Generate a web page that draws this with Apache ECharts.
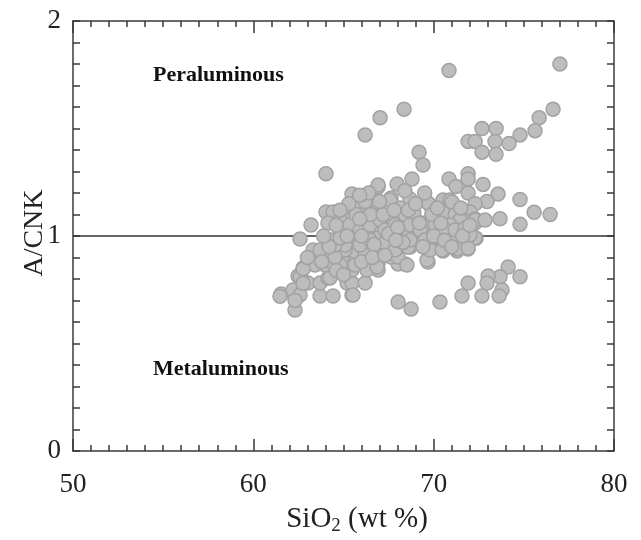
<!DOCTYPE html>
<html>
<head>
<meta charset="utf-8">
<script src="https://cdn.jsdelivr.net/npm/echarts@6/dist/echarts.min.js"></script>
<style>
html,body{margin:0;padding:0;background:#fff;}
#chart{width:641px;height:540px;}
</style>
</head>
<body>
<div id="chart"></div>
<script>
// SiO2 (wt %) and A/CNK values
const sio2 = [
70.85,77.0,68.36,67.03,66.2,69.19,69.41,64.03,76.62,75.85,75.62,74.79,74.18,72.68,73.46,71.91,72.3,73.4,72.68,73.46,
70.85,71.24,71.91,71.91,72.74,71.91,73.57,74.79,75.57,76.46,73.68,74.79,72.96,72.3,70.52,70.9,70.52,71.3,72.02,71.57,
72.3,72.3,70.9,70.85,71.63,72.35,70.52,71.3,71.9,
74.13,74.79,73.68,73.02,72.96,71.91,73.79,71.57,72.68,73.63,70.35,68.03,68.75,69.69,68.41,68.03,66.92,66.92,67.64,
62.31,61.54,62.2,62.59,62.48,62.76,63.03,63.7,64.42,65.47,63.7,64.14,63.42,63.98,64.42,64.7,65.2,65.47,66.2,65.47,
66.3,66.86,65.2,64.92,63.42,63.98,65.64,66.2,66.75,
62.59,63.2,64.03,64.42,64.14,65.47,66.58,66.92,65.47,65.09,66.2,64.81,65.47,66.2,63.31,63.7,65.09,65.8,66.75,66.58,65.92,
67.97,68.8,67.64,68.69,69.8,71.02,68.03,66.92,66.3,68.97,69.52,68.14,66.92,67.69,68.41,69.08,70.19,69.8,68.69,69.63,
68.03,68.52,65.64,64.81,65.64,65.92,65.53,62.59,62.76,64.25,64.53,
69.69,66.92,66.92,67.58,68.14,66.92,67.58,68.14,68.86,69.63,71.19,71.46,72.3,72.85,70.91,70.19,70.91,71.74,72.3,
68.97,68.3,67.58,66.92,67.19,68.03,68.58,69.8,70.47,71.3,71.91,
64.81,65.36,65.92,66.47,67.03,67.3,67.86,68.41,68.69,69.25,69.52,70.08,70.63,71.19,71.74,72.02,65.92,66.47,67.3,67.86,
68.69,65.09,64.53,64.25,64.81,61.48,62.76,62.31,67.97,70.0,
64.6,65.2,65.7,66.0,66.5,66.7,67.2,67.5,68.0,68.3,68.9,69.2,69.9,70.2,70.4,70.0,69.4,67.0,66.2,65.3,
64.8,65.9,67.8,68.6,69.0,64.2,63.8,64.6,65.0,66.0,66.6,67.3,67.9,70.6,71.0,71.6,71.5,72.0,63.0,63.9,
66.4,65.9,68.4,69.5
];
const acnk = [
1.77,1.80,1.59,1.55,1.47,1.39,1.33,1.29,1.59,1.55,1.49,1.47,1.43,1.50,1.50,1.44,1.44,1.44,1.39,1.38,
1.265,1.23,1.29,1.265,1.24,1.20,1.195,1.17,1.11,1.10,1.08,1.055,1.16,1.15,1.167,1.167,1.107,1.107,1.112,1.079,
1.079,1.06,1.051,0.99,0.99,0.99,0.93,0.93,0.94,
0.856,0.81,0.81,0.814,0.781,0.781,0.749,0.721,0.721,0.721,0.693,0.693,0.66,0.879,0.87,0.87,0.874,0.842,0.902,
0.656,0.73,0.749,0.726,0.814,0.851,0.781,0.721,0.721,0.726,0.781,0.805,0.865,0.865,0.874,0.912,0.781,0.781,0.781,0.842,
0.842,0.856,0.874,0.902,0.926,0.926,0.926,0.921,0.912,
0.986,1.051,1.112,1.112,1.06,1.195,1.20,1.228,1.112,1.074,1.074,1.014,0.99,0.972,0.935,0.935,0.935,1.042,1.028,1.121,1.153,
1.242,1.265,1.177,1.172,1.144,1.158,1.112,1.135,1.107,1.079,1.06,1.079,0.99,0.99,1.019,0.99,0.99,0.958,0.949,0.888,
0.902,0.865,0.865,0.865,0.991,0.972,0.726,0.809,0.847,0.805,0.902,
1.153,1.237,1.153,1.167,1.13,1.088,1.074,1.074,1.074,1.051,1.098,1.074,1.074,1.074,1.051,0.995,0.991,0.991,0.991,
0.995,1.019,0.991,0.991,0.944,0.949,0.949,0.935,0.935,0.94,0.944,
1.074,1.051,1.028,1.051,1.074,1.028,1.051,1.098,1.051,1.028,0.981,1.051,1.028,1.028,1.037,1.005,0.958,0.981,0.967,0.935,
0.981,0.958,0.958,0.981,0.991,0.72,0.78,0.70,1.03,1.10,
1.05,1.00,1.10,1.00,1.10,0.96,1.10,1.01,1.04,0.97,1.11,1.06,1.10,1.13,1.06,1.00,0.95,1.16,1.16,1.15,
1.12,1.08,1.12,1.12,1.15,0.95,0.88,0.84,0.82,0.88,0.90,0.91,0.98,0.98,0.95,1.00,1.13,1.05,0.90,1.00,
1.20,1.19,1.21,1.20
];
const xTicks = [50, 80, 10];   // min, max, interval
const yTicks = [0, 2, 1];
const boundary = [1];           // A/CNK = 1 line
const fieldLabels = ['Peraluminous', 'Metaluminous'];

const points = sio2.map((x, i) => [x, acnk[i]]);
const serif = '"Liberation Serif","DejaVu Serif",serif';
const axisColor = '#3a3a3a';

const chart = echarts.init(document.getElementById('chart'));

function xAxisCfg(pos, showLabel) {
  return {
    type: 'value', position: pos, min: xTicks[0], max: xTicks[1], interval: xTicks[2],
    axisLine: {show: true, onZero: false, lineStyle: {color: axisColor, width: 1.5}},
    axisTick: {show: true, inside: true, length: 12, lineStyle: {color: axisColor, width: 1.5}},
    minorTick: {show: true, splitNumber: 10, length: 6, lineStyle: {color: axisColor, width: 1.5}},
    axisLabel: {show: showLabel, margin: 20, color: '#222', fontFamily: serif, fontSize: 27},
    splitLine: {show: false}
  };
}
function yAxisCfg(pos, showLabel) {
  return {
    type: 'value', position: pos, min: yTicks[0], max: yTicks[1], interval: yTicks[2],
    axisLine: {show: true, onZero: false, lineStyle: {color: axisColor, width: 1.5}},
    axisTick: {show: true, inside: true, length: 7, lineStyle: {color: axisColor, width: 1.5}},
    minorTick: {show: true, splitNumber: 10, length: 7, lineStyle: {color: axisColor, width: 1.5}},
    axisLabel: {show: showLabel, margin: 12, color: '#222', fontFamily: serif, fontSize: 27},
    splitLine: {show: false}
  };
}

chart.setOption({
  animation: false,
  backgroundColor: '#fff',
  grid: {left: 73, right: 27, top: 21, bottom: 89, containLabel: false},
  xAxis: [xAxisCfg('bottom', true), xAxisCfg('top', false)],
  yAxis: [yAxisCfg('left', true), yAxisCfg('right', false)],
  series: [
    {
      type: 'line', z: 1,
      data: [[xTicks[0], boundary[0]], [xTicks[1], boundary[0]]],
      symbol: 'none',
      lineStyle: {color: '#333', width: 1.5},
      silent: true
    },
    {
      type: 'scatter', z: 2,
      data: points,
      symbolSize: 14,
      itemStyle: {color: '#bdbdbd', borderColor: '#a2a2a2', borderWidth: 1.5, opacity: 1}
    }
  ],
  graphic: [
    {type: 'text', left: 153, top: 64, style: {text: fieldLabels[0], fill: '#111', font: 'bold 22px ' + serif}},
    {type: 'text', left: 153, top: 358, style: {text: fieldLabels[1], fill: '#111', font: 'bold 22px ' + serif}},
    {type: 'text', x: 35, y: 233, rotation: Math.PI / 2,
     style: {text: 'A/CNK', align: 'center', verticalAlign: 'middle', fill: '#222', font: '28px ' + serif}},
    {type: 'text', x: 357, y: 519,
     style: {text: 'SiO{s|2} (wt %)', align: 'center', verticalAlign: 'middle', fill: '#222', font: '29px ' + serif,
       rich: {s: {fontFamily: serif, fontSize: 19, padding: [15, 0, 0, 0], fill: '#222'}}}}
  ]
});
</script>
</body>
</html>
